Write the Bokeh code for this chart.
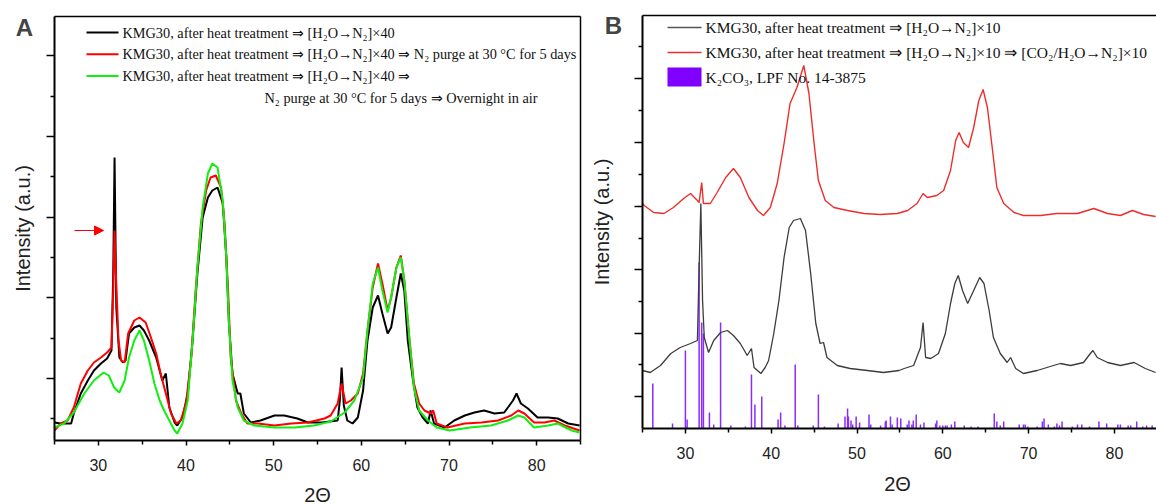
import math
from bokeh.plotting import figure
from bokeh.models import (Range1d, FixedTicker, Label, Arrow, NormalHead, LinearAxis,
                          CustomJSTickFormatter)
from bokeh.embed import file_html
from bokeh.resources import INLINE

# ---------------- Panel A data (2Theta in degrees, intensity in a.u.) ----------------
a_black_x = [25.0, 25.7, 26.9, 27.2, 28.0, 28.8, 29.5, 30.3, 31.0, 31.5, 31.7, 31.85, 32.05, 32.4, 32.8, 33.1,
             33.5, 34.1, 34.7, 35.2, 35.8, 36.6, 37.3, 37.7, 38.1, 38.7, 39.0, 39.6, 40.2, 40.75, 41.3, 41.9,
             42.5, 43.0, 43.6, 44.2, 44.6, 44.9, 45.3, 45.9, 46.2, 46.6, 47.4, 48.5, 50.1, 51.2, 52.7, 53.9,
             55.5, 57.3, 57.55, 57.75, 58.0, 58.4, 59.0, 59.6, 60.2, 60.7, 61.3, 61.9, 62.4, 63.0, 63.4, 64.0,
             64.5, 64.9, 65.3, 65.9, 66.4, 67.0, 67.6, 67.9, 68.3, 69.5, 70.6, 71.8, 72.9, 74.0, 75.2, 76.3,
             77.3, 77.7, 78.2, 79.0, 80.1, 81.3, 82.4, 83.6, 84.9]
a_black_y = [18, 17, 17, 27, 47, 60, 70, 77, 82, 90, 167, 283, 133, 83, 78, 80,
             107, 113, 115, 110, 100, 83, 60, 67, 33, 18, 15, 23, 47, 100, 167, 223,
             243, 250, 253, 237, 183, 117, 67, 47, 47, 27, 18, 20, 25, 25, 22, 18,
             18, 20, 40, 73, 35, 20, 17, 23, 50, 100, 133, 145, 127, 107, 113, 143,
             167, 150, 100, 60, 33, 23, 17, 30, 17, 13, 20, 25, 28, 30, 27, 28,
             40, 47, 37, 32, 23, 23, 22, 17, 15]

a_red_x = [25.0, 25.7, 26.5, 27.2, 28.0, 28.8, 29.5, 30.3, 31.0, 31.5, 31.7, 31.85, 32.0, 32.3, 32.6, 33.0,
           33.4, 34.1, 34.7, 35.4, 36.0, 36.6, 37.1, 37.7, 38.3, 38.9, 39.4, 40.0, 40.6, 41.1, 41.7, 42.3,
           42.8, 43.4, 44.0, 44.4, 44.8, 45.1, 45.7, 46.3, 47.0, 48.2, 50.1, 52.0, 53.9, 55.8, 56.5, 57.3,
           57.75, 58.2, 58.8, 59.6, 60.2, 60.7, 61.3, 61.9, 62.4, 63.0, 63.4, 64.0, 64.5, 64.9, 65.5, 66.0,
           66.6, 67.2, 67.9, 68.2, 68.6, 69.8, 71.8, 73.7, 75.6, 77.1, 77.9, 78.6, 79.7, 80.9, 82.0, 83.2, 84.9]
a_red_y = [10, 17, 20, 33, 57, 70, 78, 83, 88, 93, 150, 210, 167, 100, 80, 78,
           107, 120, 123, 118, 103, 87, 67, 47, 27, 17, 20, 37, 83, 150, 217, 250,
           263, 265, 253, 217, 150, 83, 40, 27, 17, 17, 15, 17, 18, 22, 25, 37,
           57, 37, 40, 47, 67, 110, 153, 177, 157, 130, 143, 173, 185, 160, 100, 57,
           37, 30, 27, 30, 17, 13, 17, 18, 20, 25, 30, 27, 18, 18, 20, 15, 10]

a_green_x = [25.0, 26.1, 27.2, 28.4, 29.5, 30.6, 31.2, 31.8, 32.4, 33.0, 33.5, 34.1, 34.7, 35.2, 35.8, 36.4,
             37.0, 37.5, 38.1, 38.7, 39.0, 39.6, 40.2, 40.75, 41.3, 41.9, 42.5, 43.0, 43.6, 44.2, 44.6, 44.9,
             45.3, 45.9, 46.6, 47.8, 50.1, 52.4, 54.6, 56.5, 58.1, 59.2, 60.2, 60.7, 61.3, 61.9, 62.4, 63.0,
             63.4, 64.0, 64.5, 64.9, 65.5, 66.0, 66.6, 67.6, 68.6, 70.1, 72.4, 74.8, 76.7, 77.9, 78.6, 79.7,
             81.3, 82.4, 84.0, 84.9]
a_green_y = [13, 17, 28, 47, 60, 68, 65, 53, 48, 60, 83, 100, 110, 100, 80, 57,
             40, 30, 20, 10, 7, 17, 40, 100, 173, 233, 267, 277, 273, 240, 183, 117,
             60, 33, 20, 15, 13, 13, 15, 19, 28, 40, 63, 110, 157, 173, 150, 128,
             143, 173, 183, 160, 100, 53, 30, 20, 13, 10, 13, 15, 20, 25, 23, 13,
             15, 17, 10, 8]

a_yticks = [62, 143, 223, 304, 385]
a_yminor = [22, 102, 183, 264, 344]

# ---------------- Panel B data ----------------
b_red_x = [25.0, 25.2, 26.3, 27.5, 28.6, 29.8, 30.6, 31.4, 31.6, 31.9, 32.1, 32.9, 33.7, 34.7, 35.6, 36.4,
           37.4, 38.4, 39.1, 39.9, 40.7, 41.5, 42.2, 43.0, 43.8, 44.4, 45.0, 45.5, 46.3, 47.3, 48.9, 50.8,
           52.7, 54.7, 55.9, 57.0, 57.7, 58.2, 59.3, 60.1, 60.9, 61.5, 61.9, 62.4, 63.0, 63.6, 64.2, 64.7,
           65.2, 65.8, 66.3, 67.1, 68.3, 69.4, 71.4, 73.3, 75.7, 77.6, 79.2, 80.7, 82.1, 83.4, 84.8]
b_red_y = [225, 223, 216, 215, 221, 230, 235, 228, 226, 246, 225, 225, 236, 251, 260, 251,
           231, 218, 213, 221, 245, 285, 325, 341, 363, 335, 285, 248, 228, 221, 218, 215,
           214, 215, 218, 225, 235, 231, 233, 238, 258, 288, 296, 286, 281, 301, 328, 339,
           321, 278, 241, 225, 216, 213, 213, 215, 215, 220, 215, 213, 218, 214, 212]

b_gray_x = [25.0, 25.9, 27.1, 28.3, 29.4, 30.6, 31.4, 31.6, 31.8, 32.0, 32.2, 32.7, 33.3, 34.1, 34.9, 35.6,
            36.4, 37.2, 37.7, 38.0, 38.8, 39.3, 39.7, 40.3, 40.9, 41.5, 42.1, 42.6, 43.4, 44.0, 44.6, 45.2,
            45.7, 46.1, 46.5, 47.7, 49.2, 51.2, 53.1, 54.9, 55.5, 56.6, 57.4, 57.7, 58.0, 58.6, 59.5, 60.3,
            60.9, 61.4, 61.8, 62.3, 62.9, 63.6, 64.3, 64.8, 65.4, 65.9, 66.7, 67.5, 67.9, 68.5, 69.4, 71.0,
            72.9, 73.7, 74.9, 76.4, 77.2, 77.5, 78.0, 79.2, 80.7, 82.3, 83.6, 84.8]
b_gray_y = [58, 56, 63, 75, 81, 85, 88, 161, 225, 128, 91, 76, 88, 96, 98, 93,
            85, 73, 80, 61, 55, 61, 68, 95, 128, 171, 201, 208, 210, 198, 155, 105,
            85, 86, 71, 63, 60, 58, 56, 58, 60, 63, 81, 106, 71, 70, 75, 95,
            125, 145, 153, 138, 125, 138, 151, 145, 118, 91, 75, 66, 71, 60, 55, 58,
            63, 65, 63, 66, 75, 78, 71, 66, 63, 66, 60, 56]

# K2CO3 reference pattern (LPF No. 14-3875): stick positions and heights
k2co3_x = [26.2, 28.5, 30.0, 30.2, 31.6, 31.9, 32.1, 32.8, 33.3, 34.1, 35.3, 37.0, 37.7, 38.1, 38.9, 40.8,
           41.1, 41.6, 42.8, 43.1, 44.9, 45.5, 46.2, 47.8, 48.6, 48.9, 49.0, 49.3, 49.5, 49.9, 50.3, 51.4,
           51.6, 52.75, 53.3, 53.4, 53.9, 54.1, 54.7, 55.1, 55.85, 56.06, 56.4, 56.56, 56.9, 57.4, 57.8, 59.16,
           59.3, 59.66, 60.0, 60.3, 60.5, 61.0, 61.4, 62.5, 63.3, 64.1, 66.0, 66.3, 66.7, 67.1, 68.9, 69.4,
           69.6, 69.9, 71.0, 71.6, 71.8, 72.3, 73.0, 73.3, 73.6, 73.9, 75.1, 75.7, 76.2, 77.1, 78.2, 79.1,
           80.4, 80.7, 81.6, 81.9, 82.6, 83.3, 83.75, 84.4]
k2co3_h = [45, 5, 78, 9, 166, 106, 95, 16, 4, 106, 3, 2, 54, 24, 32, 9,
           16, 3, 64, 3, 3, 34, 2, 5, 12, 20, 12, 8, 4, 12, 6, 14,
           4, 3, 7, 8, 12, 4, 11, 10, 4, 8, 4, 8, 14, 4, 6, 5,
           8, 3, 3, 3, 3, 4, 7, 3, 2, 2, 15, 7, 3, 7, 4, 4,
           4, 2, 2, 7, 10, 4, 2, 5, 3, 7, 2, 4, 4, 2, 7, 5,
           4, 4, 3, 3, 7, 2, 3, 3]

b_yticks = [32, 95, 159, 222, 286, 350]
b_yminor = [64, 127, 190, 254, 318, 382]

x_major = [30, 40, 50, 60, 70, 80]
x_minor = [25, 35, 45, 55, 65, 75, 85]

A_LEGEND = ["KMG30, after heat treatment \u21d2 [H\u2082O\u2192N\u2082]\u00d740",
            "KMG30, after heat treatment \u21d2 [H\u2082O\u2192N\u2082]\u00d740 \u21d2 N\u2082 purge at 30 \u00b0C for 5 days",
            "KMG30, after heat treatment \u21d2 [H\u2082O\u2192N\u2082]\u00d740  \u21d2",
            "N\u2082 purge at 30 \u00b0C for 5 days \u21d2 Overnight in air"]
B_LEGEND = ["KMG30, after heat treatment \u21d2 [H\u2082O\u2192N\u2082]\u00d710",
            "KMG30, after heat treatment \u21d2 [H\u2082O\u2192N\u2082]\u00d710 \u21d2 [CO\u2082/H\u2082O\u2192N\u2082]\u00d710",
            "K\u2082CO\u2083, LPF No. 14-3875"]

SANS = "Liberation Sans"
SERIF = "Liberation Serif"
RED_A = "#ff0000"
GREEN_A = "#11ee11"
RED_B = "#ee2c2c"
GRAY_B = "#3c3c3c"
PURPLE = "#8a2bff"

# ---------------- layout geometry (picture pixels, canvas at top-left) ----------------
W, H = 1156, 504
A_L, A_R, A_T, A_B = 54, 580, 16, 440
B_L, B_T, B_B = 642, 15, 428
SA = (A_R - A_L) / 60.0
SB = 8.58


def Y(py):
    return H - py


p = figure(width=W, height=H, output_backend="svg", toolbar_location=None,
           x_range=Range1d(0, W), y_range=Range1d(0, H),
           x_axis_location=None, y_axis_location=None, min_border=0)
p.xgrid.visible = False
p.ygrid.visible = False
p.outline_line_color = None
p.background_fill_color = "white"
p.border_fill_color = "white"

p.extra_x_ranges = {
    "A": Range1d(25 - A_L / SA, 85 + (W - A_R) / SA),
    "B": Range1d(25 - B_L / SB, 25 + (W - B_L) / SB),
}
p.extra_y_ranges = {
    "A": Range1d(A_B - H, A_B),
    "B": Range1d(B_B - H, B_B),
}

empty = CustomJSTickFormatter(code="return ''")


def add_axes(name, ytop, yticks, yminor):
    xa = LinearAxis(x_range_name=name, y_range_name=name, fixed_location=0, bounds=(25, 85),
                    ticker=FixedTicker(ticks=x_major, minor_ticks=x_minor))
    xa.axis_line_width = 2
    xa.major_tick_in = 0
    xa.major_tick_out = 5
    xa.minor_tick_in = 0
    xa.minor_tick_out = 4
    xa.major_tick_line_width = 1.5
    xa.minor_tick_line_width = 1.5
    xa.major_label_text_font = SANS
    xa.major_label_text_font_size = "16px"
    xa.major_label_text_color = "#222222"
    xa.major_label_standoff = 13
    p.add_layout(xa, "below")
    ya = LinearAxis(x_range_name=name, y_range_name=name, fixed_location=25, bounds=(0, ytop),
                    ticker=FixedTicker(ticks=yticks, minor_ticks=yminor), formatter=empty)
    ya.axis_line_width = 2
    ya.major_tick_in = 0
    ya.major_tick_out = 8
    ya.minor_tick_in = 0
    ya.minor_tick_out = 4
    ya.major_tick_line_width = 1.5
    ya.minor_tick_line_width = 1.5
    ya.major_label_standoff = 0
    p.add_layout(ya, "left")


# ---------------- Panel A ----------------
add_axes("A", A_B - A_T, a_yticks, a_yminor)
p.segment(x0=[25, 85], y0=[A_B - A_T, 0], x1=[85, 85], y1=[A_B - A_T, A_B - A_T],
          line_color="black", line_width=1.5, x_range_name="A", y_range_name="A")

p.line(a_black_x, a_black_y, line_color="black", line_width=2, x_range_name="A", y_range_name="A")
p.line(a_red_x, a_red_y, line_color=RED_A, line_width=2, x_range_name="A", y_range_name="A")
p.line(a_green_x, a_green_y, line_color=GREEN_A, line_width=2, x_range_name="A", y_range_name="A")

p.add_layout(Arrow(end=NormalHead(size=9, fill_color=RED_A, line_color=RED_A),
                   x_start=25 + (74 - A_L) / SA, y_start=210, x_end=25 + (103 - A_L) / SA, y_end=210,
                   line_color=RED_A, line_width=1, x_range_name="A", y_range_name="A"))

for i, c in enumerate(["black", RED_A, GREEN_A]):
    yy = Y(32 + 21.7 * i)
    p.segment(x0=[86], y0=[yy], x1=[118], y1=[yy], line_color=c, line_width=2)
for i, t in enumerate(A_LEGEND):
    px = 122 if i < 3 else 264
    p.add_layout(Label(x=px, y=Y(32 + 21.7 * i), text=t, text_font=SERIF,
                       text_font_size="14.3px", text_baseline="middle", text_color="#111111"))
p.add_layout(Label(x=24, y=Y(27), text="A", text_font=SANS, text_font_style="bold",
                   text_font_size="24px", text_baseline="middle", text_align="center"))
p.add_layout(Label(x=22, y=Y((A_T + A_B) / 2), text="Intensity (a.u.)", text_font=SANS,
                   text_font_size="20px", text_baseline="middle", text_align="center",
                   angle=math.pi / 2, text_color="#222222"))
p.add_layout(Label(x=(A_L + A_R) / 2, y=Y(494), text="2\u0398", text_font=SANS,
                   text_font_size="20px", text_baseline="middle", text_align="center",
                   text_color="#222222"))

# ---------------- Panel B ----------------
add_axes("B", B_B - B_T, b_yticks, b_yminor)
p.segment(x0=[25], y0=[B_B - B_T], x1=[85], y1=[B_B - B_T],
          line_color="black", line_width=1.5, x_range_name="B", y_range_name="B")

p.segment(x0=k2co3_x, y0=[0] * len(k2co3_x), x1=k2co3_x, y1=k2co3_h,
          line_color=PURPLE, line_width=1.5, x_range_name="B", y_range_name="B")
p.line(b_gray_x, b_gray_y, line_color=GRAY_B, line_width=1.3, x_range_name="B", y_range_name="B")
p.line(b_red_x, b_red_y, line_color=RED_B, line_width=1.4, x_range_name="B", y_range_name="B")

for i, c in enumerate(["#555555", RED_B]):
    yy = Y(27 + 25 * i)
    p.segment(x0=[667], y0=[yy], x1=[701], y1=[yy], line_color=c, line_width=1.3)
p.quad(left=[667], right=[701], bottom=[Y(86)], top=[Y(67)], fill_color="#7f00ff", line_color=None)
for i, t in enumerate(B_LEGEND):
    p.add_layout(Label(x=705, y=Y(27 + 25 * i), text=t, text_font=SERIF,
                       text_font_size="15.5px", text_baseline="middle", text_color="#111111"))
p.add_layout(Label(x=613, y=Y(25), text="B", text_font=SANS, text_font_style="bold",
                   text_font_size="24px", text_baseline="middle", text_align="center"))
p.add_layout(Label(x=601, y=Y((B_T + B_B) / 2), text="Intensity (a.u.)", text_font=SANS,
                   text_font_size="20px", text_baseline="middle", text_align="center",
                   angle=math.pi / 2, text_color="#222222"))
p.add_layout(Label(x=897, y=Y(483), text="2\u0398", text_font=SANS,
                   text_font_size="20px", text_baseline="middle", text_align="center",
                   text_color="#222222"))

open("out.html", "w").write(file_html(p, INLINE))
